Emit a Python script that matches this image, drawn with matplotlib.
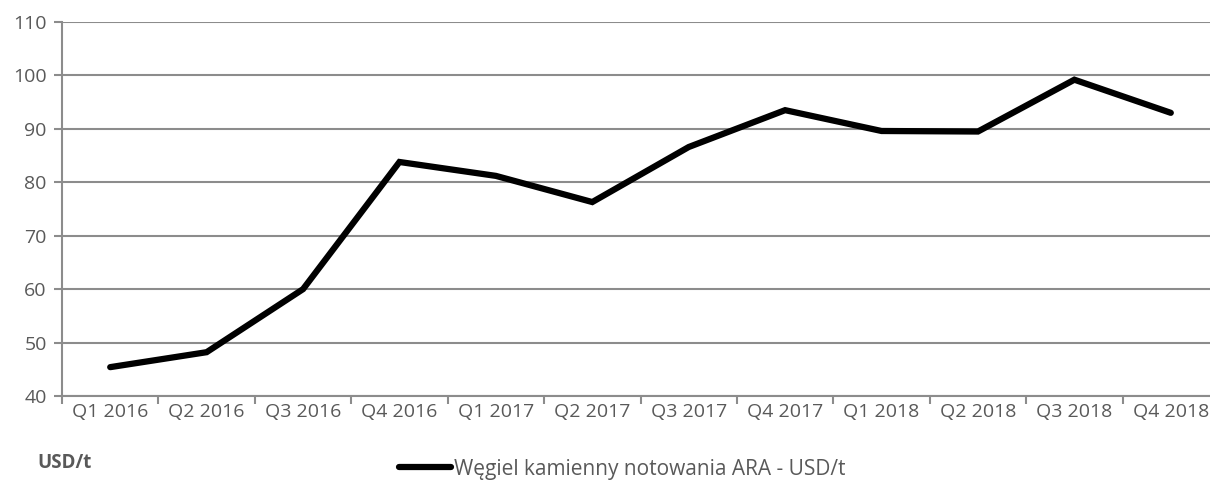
import matplotlib
matplotlib.use("Agg")
import matplotlib.pyplot as plt
import numpy as np

# chart data
quarters = ['Q1 2016', 'Q2 2016', 'Q3 2016', 'Q4 2016',
            'Q1 2017', 'Q2 2017', 'Q3 2017', 'Q4 2017',
            'Q1 2018', 'Q2 2018', 'Q3 2018', 'Q4 2018']
prices = [45.4, 48.2, 60.0, 83.8, 81.2, 76.3, 86.6, 93.5, 89.6, 89.5, 99.2, 93.0]
series_label = 'Węgiel kamienny notowania ARA - USD/t'
unit_label = 'USD/t'

text_col = '#595959'
grid_col = '#8c8c8c'

plt.rcParams['font.family'] = ['Open Sans', 'DejaVu Sans']

fig = plt.figure(figsize=(12.1, 4.8), dpi=100)
ax = fig.add_axes([62 / 1210, 1 - 396 / 480, 1157 / 1210, 374 / 480])

x = np.arange(len(quarters))
line, = ax.plot(x, prices, color='k', linewidth=4.5, solid_capstyle='round',
                solid_joinstyle='miter', zorder=3)

ax.set_xlim(-0.5, len(quarters) - 0.5)
ax.set_ylim(40, 110)
ax.set_yticks(np.arange(40, 111, 10))
ax.yaxis.grid(True, color=grid_col, linewidth=1.5)
ax.set_axisbelow(True)

# category ticks at boundaries, labels at centres
ax.set_xticks(np.arange(-0.5, len(quarters), 1.0))
ax.set_xticklabels([])
ax.set_xticks(x, minor=True)
ax.set_xticklabels(quarters, minor=True)
ax.tick_params(axis='x', which='major', length=6, width=1.5, color=grid_col)
ax.tick_params(axis='x', which='minor', length=0, pad=5, labelsize=14, labelcolor=text_col)
ax.tick_params(axis='y', length=6, width=1.5, color=grid_col, labelsize=14,
               labelcolor=text_col, pad=5)

for s in ['top', 'right']:
    ax.spines[s].set_visible(False)
for s in ['left', 'bottom']:
    ax.spines[s].set_color(grid_col)
    ax.spines[s].set_linewidth(1.5)

fig.text(37 / 1210, 1 - 463 / 480, unit_label, fontsize=13.5, fontweight='bold',
         color=text_col, va='center', ha='left')

fig.legend([line], [series_label], loc='center left',
           bbox_to_anchor=(399 / 1210, 1 - 469 / 480), frameon=False,
           fontsize=15, labelcolor=text_col, handlelength=2.5, handletextpad=0.12,
           borderaxespad=0, borderpad=0)

fig.savefig('out.png', dpi=100)
